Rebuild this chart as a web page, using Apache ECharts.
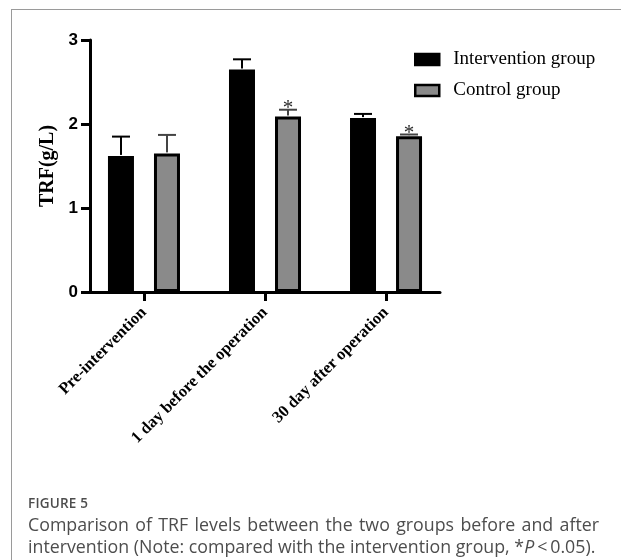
<!DOCTYPE html>
<html>
<head>
<meta charset="utf-8">
<script src="https://cdn.jsdelivr.net/npm/echarts@6/dist/echarts.min.js"></script>
<style>
  html, body { margin: 0; padding: 0; background: #fff; }
  #wrap { position: relative; width: 621px; height: 560px; overflow: hidden; }
  #frame { position: absolute; left: 11px; top: 9px; right: -2px; bottom: -2px;
           border-left: 1px solid #9a9a9a; border-top: 1px solid #9a9a9a; }
  #chart { position: absolute; left: 0; top: 0; width: 621px; height: 560px; }
  #caption { position: absolute; left: 28px; top: 494px; width: 571px;
             font-family: "Open Sans", sans-serif; color: #4d4d4d; }
  #caption .fig { font-size: 13.5px; font-weight: 600; letter-spacing: 0.2px; line-height: 19px; }
  #caption .line { font-size: 17.8px; line-height: 22px; white-space: nowrap; }
  #caption .just { text-align: justify; text-align-last: justify; }
</style>
</head>
<body>
<div id="wrap">
  <div id="frame"></div>
  <div id="chart"></div>
  <div id="caption">
    <div class="fig">FIGURE 5</div>
    <div class="line just">Comparison of TRF levels between the two groups before and after</div>
    <div class="line">intervention (Note: compared with the intervention group, *<i>P</i>&thinsp;&lt;&thinsp;0.05).</div>
  </div>
</div>
<script>
// Time points on the x axis
const categories = ['Pre-intervention', '1 day before the operation', '30 day after operation'];
const seriesNames = ['Intervention group', 'Control group'];

// Mean TRF (g/L) and standard deviation per time point
const interventionMean = [1.62, 2.65, 2.07];
const interventionSD   = [0.23, 0.12, 0.05];
const controlMean      = [1.65, 2.09, 1.855];
const controlSD        = [0.22, 0.08, 0.02];
// Significance versus the intervention group (*P < 0.05)
const controlSig       = [false, true, true];

const yTicks = [0, 1, 2, 3];

const positions = categories.map((_, i) => i);
const BAR_OFFSET = 23; // half the distance between paired bar centres, px

const chart = echarts.init(document.getElementById('chart'), null, { renderer: 'canvas' });

function errorSeries(name, means, sds, offset, lineColor, sig) {
  return {
    type: 'custom',
    name: name + ' SD',
    coordinateSystem: 'cartesian2d',
    z: 5,
    silent: true,
    data: positions.map((x, i) => [x, means[i], sds[i], sig && sig[i] ? 1 : 0]),
    renderItem: function (params, api) {
      const x = api.value(0), m = api.value(1), s = api.value(2), star = api.value(3);
      const base = api.coord([x, m]);
      const top = api.coord([x, m + s]);
      const cx = base[0] + offset;
      const children = [
        { type: 'line', shape: { x1: cx, y1: base[1] - 1, x2: cx, y2: top[1] },
          style: { stroke: lineColor, lineWidth: 2 } },
        { type: 'line', shape: { x1: cx - 9, y1: top[1], x2: cx + 9, y2: top[1] },
          style: { stroke: lineColor, lineWidth: 2 } }
      ];
      if (star) {
        children.push({ type: 'text',
          style: { text: '*', x: cx, y: top[1] + 9, align: 'center', verticalAlign: 'bottom',
                   font: '21px "Liberation Serif", serif', fill: '#2a2a2a' } });
      }
      return { type: 'group', children: children };
    }
  };
}

chart.setOption({
  animation: false,
  backgroundColor: 'transparent',
  grid: { left: 90, right: 181, top: 40, bottom: 268 },
  legend: {
    data: [
      { name: seriesNames[0], itemStyle: { color: '#000', borderColor: '#000', borderWidth: 2.5 } },
      { name: seriesNames[1], itemStyle: { color: '#8a8a8a', borderColor: '#000', borderWidth: 2.5 } }
    ],
    orient: 'vertical',
    left: 409,
    top: 44,
    itemWidth: 24,
    itemHeight: 11,
    itemGap: 10,
    icon: 'rect',
    textStyle: { fontFamily: '"Liberation Serif", serif', fontSize: 19, color: '#000',
                 lineHeight: 21, padding: [0, 0, 0, 9] }
  },
  xAxis: {
    type: 'value',
    min: -0.446,
    max: 2.446,
    splitLine: { show: false },
    axisLine: { show: true, onZero: false, lineStyle: { color: '#000', width: 3 } },
    axisTick: { show: true, customValues: positions, length: 9, lineStyle: { color: '#000', width: 3 } },
    axisLabel: {
      customValues: positions,
      formatter: v => categories[Math.round(v)],
      rotate: 45,
      margin: 18,
      fontFamily: '"Liberation Serif", serif',
      fontWeight: 'bold',
      fontSize: 16.5,
      color: '#000'
    }
  },
  yAxis: {
    type: 'value',
    min: yTicks[0],
    max: yTicks[yTicks.length - 1],
    interval: 1,
    name: 'TRF(g/L)',
    nameLocation: 'middle',
    nameGap: 28,
    nameTextStyle: { fontFamily: '"Liberation Serif", serif', fontWeight: 'bold', fontSize: 20, color: '#000' },
    splitLine: { show: false },
    axisLine: { show: true, onZero: false, lineStyle: { color: '#000', width: 3 } },
    axisTick: { show: true, length: 9, lineStyle: { color: '#000', width: 3 } },
    axisLabel: { margin: 12, fontFamily: '"Liberation Sans", Arial, sans-serif', fontWeight: 'bold',
                 fontSize: 17, color: '#000' }
  },
  series: [
    {
      name: seriesNames[0],
      type: 'bar',
      barWidth: 26,
      barGap: '77%',
      data: positions.map((x, i) => [x, interventionMean[i]]),
      itemStyle: { color: '#000', borderColor: '#000', borderWidth: 3 }
    },
    {
      name: seriesNames[1],
      type: 'bar',
      barWidth: 26,
      barGap: '77%',
      data: positions.map((x, i) => [x, controlMean[i]]),
      itemStyle: { color: '#8a8a8a', borderColor: '#000', borderWidth: 3 }
    },
    errorSeries(seriesNames[0], interventionMean, interventionSD, -BAR_OFFSET, '#000', null),
    errorSeries(seriesNames[1], controlMean, controlSD, BAR_OFFSET, '#444', controlSig)
  ]
});
</script>
</body>
</html>
